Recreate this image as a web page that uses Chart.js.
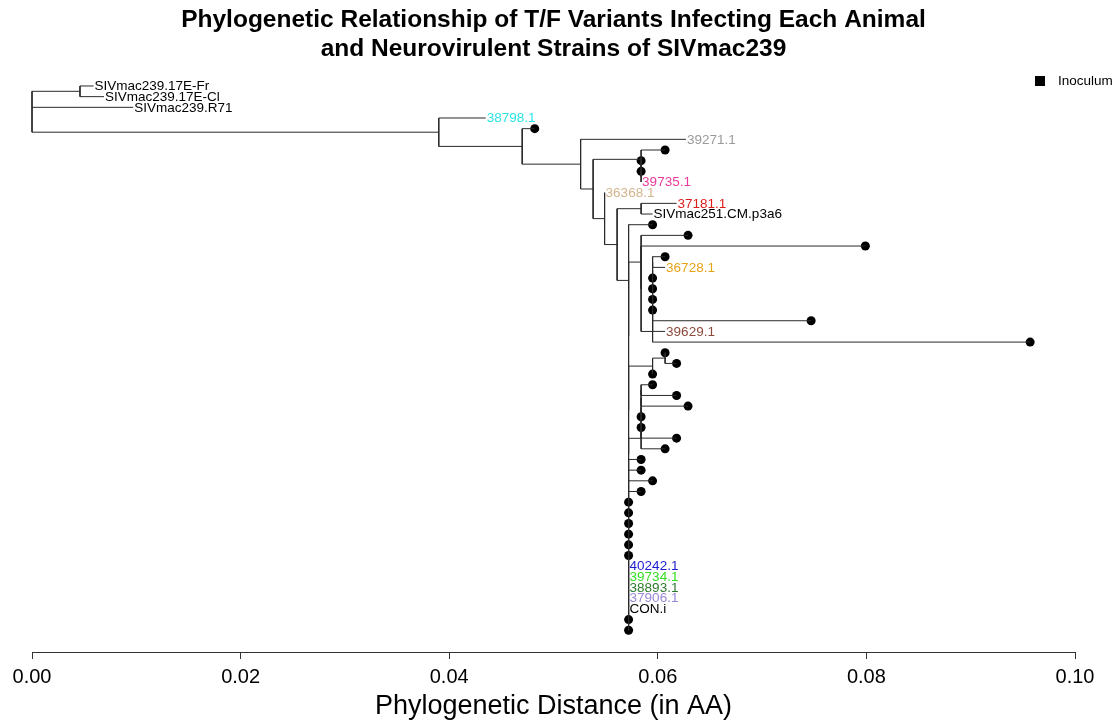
<!DOCTYPE html>
<html>
<head>
<meta charset="utf-8">
<script src="https://cdn.jsdelivr.net/npm/chart.js"></script>
<style>
  html, body { margin: 0; padding: 0; background: #fff; }
  #wrap { width: 1119px; height: 723px; }
</style>
</head>
<body>
<div id="wrap"><canvas id="tree" width="1119" height="723"></canvas></div>
<script>
// Tree in Newick pieces, branch lengths in AA distance.
// Unnamed leaves are inoculum clones (drawn as dots).
const sivmac239 = "(SIVmac239.17E-Fr:0.0013,SIVmac239.17E-Cl:0.0023):0.0046,SIVmac239.R71:0.0097";
const clade39735 = "(:0.0023,(:0,(:0,39735.1:0):0):0):0.0046";
const cladeSIV251 = "(37181.1:0.0034,SIVmac251.CM.p3a6:0.0011):0.0023";
const cladeLong = "((((((((:0.0012,36728.1:0.0012):0,:0):0,:0):0,:0):0,:0):0,:0.0152):0,39629.1:0.0012):0,:0.0362):0.0011";
const cladeF = "(:0.0045,(:0.0215," + cladeLong + "):0):0.0012";
const cladeI = "((:0,:0.0011):0.0012,:0):0.0023";
const cladeK = "((((((:0.0011,:0.0034):0,:0.0045):0,:0):0,:0):0,:0.0034):0,:0.0023):0.0012";
const trunk = "(:0.0012,(:0.0012,(:0.0023,(:0.0012,(:0,(:0,(:0,(:0,(:0,(:0,(40242.1:0,(39734.1:0,(38893.1:0,(37906.1:0,(CON.i:0,(:0,:0)"
  + ":0):0):0):0):0)" + ":0):0):0):0):0)" + ":0):0):0):0):0)";
const cladeE = "(:0.0023,(" + cladeF + ",(" + cladeI + ",(" + cladeK + "," + trunk + ":0):0):0):0):0.0011";
const cladeC = "(" + cladeSIV251 + "," + cladeE + "):0.0012";
const newick = "(" + sivmac239 + ",(38798.1:0.0045,(:0.0012,(39271.1:0.0101,(" + clade39735
  + ",(36368.1:0," + cladeC + "):0.0011):0.0012):0.0056):0.0080):0.0390);";

const xTicks = [0, 0.02, 0.04, 0.06, 0.08, 0.10];
const titleLines = ['Phylogenetic Relationship of T/F Variants Infecting Each Animal',
                    'and Neurovirulent Strains of SIVmac239'];
const xTitle = 'Phylogenetic Distance (in AA)';

// label colours per animal
const tipColors = {
  '38798.1': '#2ee4e8', '39271.1': '#9a9a9a', '39735.1': '#e6399b', '36368.1': '#d2b48c',
  '37181.1': '#dd1c1c', '36728.1': '#e6a317', '39629.1': '#8c4a3c', '40242.1': '#1c1cd0',
  '39734.1': '#33dd22', '38893.1': '#2d7a2d', '37906.1': '#9c86d8'
};
const FONT = '"Liberation Sans", Arial, Helvetica, sans-serif';

function parseNewick(str) {
  let i = 0;
  function readNode() {
    const node = { name: '', len: 0, children: [] };
    if (str[i] === '(') {
      i++;
      node.children.push(readNode());
      while (str[i] === ',') { i++; node.children.push(readNode()); }
      i++;
    }
    const name = /^[^:,();]*/.exec(str.slice(i))[0];
    node.name = name; i += name.length;
    if (str[i] === ':') {
      i++;
      const num = /^[-0-9.eE]+/.exec(str.slice(i))[0];
      node.len = parseFloat(num); i += num.length;
    }
    return node;
  }
  return readNode();
}

const root = parseNewick(newick);
const tips = [];
function place(node, x0) {
  node.x = x0 + node.len;
  if (!node.children.length) { tips.push(node); node.y = tips.length; return; }
  node.children.forEach(c => place(c, node.x));
  node.y = node.children.reduce((s, c) => s + c.y, 0) / node.children.length;
}
place(root, 0);

// branch segments: one vertical per node, one horizontal per child
const branchPts = [];
const gap = { x: null, y: null };
function collect(node) {
  if (!node.children.length) return;
  const ys = node.children.map(c => c.y);
  branchPts.push({ x: node.x, y: Math.min(...ys) }, { x: node.x, y: Math.max(...ys) }, gap);
  node.children.forEach(c => {
    branchPts.push({ x: node.x, y: c.y }, { x: c.x, y: c.y }, gap);
    collect(c);
  });
}
collect(root);

const dotTips = tips.filter(t => !t.name).map(t => ({ x: t.x, y: t.y }));
const namedTips = tips.filter(t => t.name);
const yPad = 0.04 * (tips.length - 1);

const tipLabels = {
  id: 'tipLabels',
  afterDatasetsDraw(chart) {
    const { ctx, scales: { x, y } } = chart;
    ctx.save();
    ctx.font = '13.5px ' + FONT;
    ctx.textBaseline = 'middle';
    ctx.textAlign = 'left';
    namedTips.forEach(t => {
      ctx.fillStyle = tipColors[t.name] || '#000';
      ctx.fillText(t.name, x.getPixelForValue(t.x) + 1, y.getPixelForValue(t.y) + 0.5);
    });
    ctx.restore();
  }
};

const inoculumKey = {
  id: 'inoculumKey',
  afterDraw(chart) {
    const { ctx, width } = chart;
    ctx.save();
    ctx.fillStyle = '#000';
    ctx.fillRect(width - 84, 76, 10, 10);
    ctx.font = '13.5px ' + FONT;
    ctx.textBaseline = 'middle';
    ctx.textAlign = 'left';
    ctx.fillText(chart.data.datasets[1].label, width - 61, 81);
    ctx.restore();
  }
};

new Chart(document.getElementById('tree'), {
  type: 'scatter',
  data: {
    datasets: [
      { type: 'line', label: 'branches', data: branchPts, borderColor: '#2a2a2a', borderWidth: 1,
        pointRadius: 0, spanGaps: false, tension: 0, fill: false, clip: false },
      { type: 'scatter', label: 'Inoculum', data: dotTips, pointRadius: 4.5,
        pointBackgroundColor: '#000', pointBorderWidth: 0, clip: false }
    ]
  },
  options: {
    responsive: false,
    animation: false,
    events: [],
    layout: { padding: { left: 32, right: 44, top: 0, bottom: 0 } },
    plugins: {
      legend: { display: false },
      tooltip: { enabled: false },
      title: {
        display: true, text: titleLines, color: '#000',
        font: { family: FONT, size: 24.5, weight: 'bold', lineHeight: 1.2 },
        padding: { top: 5.2, bottom: 0.2 }
      }
    },
    scales: {
      x: {
        type: 'linear', min: 0, max: 0.1,
        afterBuildTicks: s => { s.ticks = xTicks.map(v => ({ value: v })); },
        afterFit: s => { s.height = 71; },
        grid: { drawOnChartArea: false, drawTicks: true, tickLength: 7, color: '#333' },
        border: { display: true, color: '#333', width: 1 },
        ticks: { color: '#000', padding: 6, maxRotation: 0, autoSkip: false,
                 font: { family: FONT, size: 20 }, callback: v => v.toFixed(2) },
        title: { display: true, text: xTitle, color: '#000', padding: 0,
                 font: { family: FONT, size: 27, lineHeight: 1.2 } }
      },
      y: { type: 'linear', display: false, reverse: true, min: 1 - yPad, max: tips.length + yPad }
    }
  },
  plugins: [tipLabels, inoculumKey]
});
</script>
</body>
</html>
